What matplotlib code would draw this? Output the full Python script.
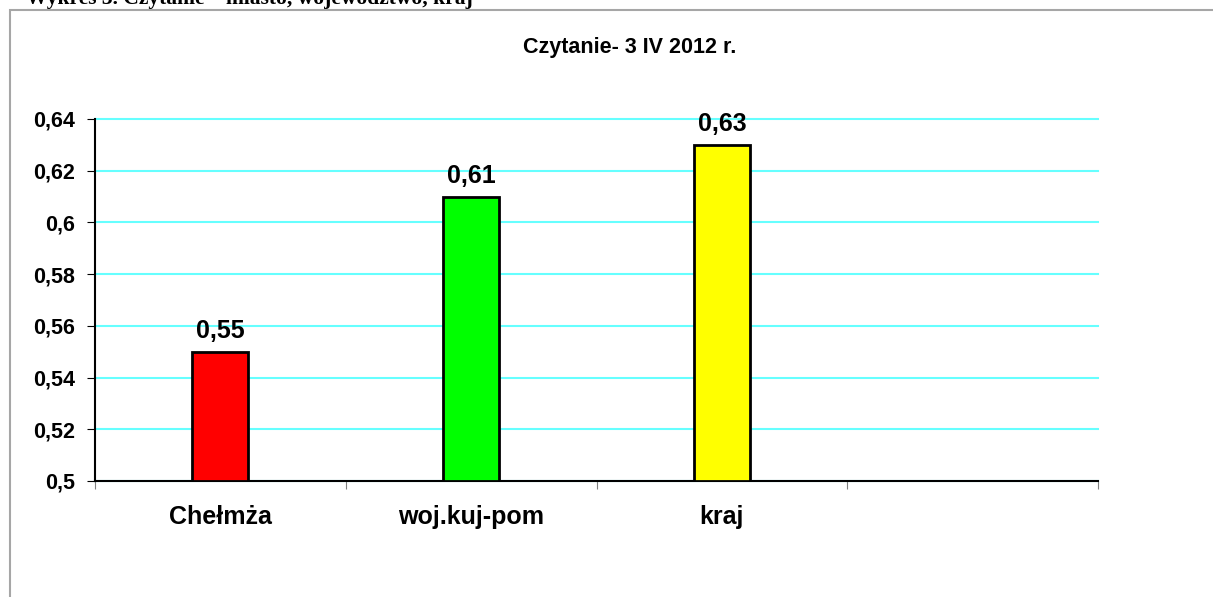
import matplotlib.pyplot as plt
from matplotlib.patches import Rectangle

categories = ['Chełmża', 'woj.kuj-pom', 'kraj']
values = [0.55, 0.61, 0.63]
bar_colors = ['#ff0000', '#00ff00', '#ffff00']
yticks = [0.5, 0.52, 0.54, 0.56, 0.58, 0.6, 0.62, 0.64]
n_slots = 4  # the chart keeps an empty fourth slot

plt.rcParams['font.family'] = ['Liberation Sans', 'DejaVu Sans']

W, H = 1213, 597
fig = plt.figure(figsize=(W / 100, H / 100), dpi=100)

# outer frame of the chart object
fig.patches.append(Rectangle((10 / W, -0.1), 1.2, (H - 10) / H + 0.1, transform=fig.transFigure,
                             fill=False, edgecolor='#a6a6a6', linewidth=1.5))
fig.text(26 / W, 1 - 4 / H, 'Wykres 3. Czytanie – miasto, województwo, kraj',
         family=['Liberation Serif', 'DejaVu Serif'], fontsize=15.5, fontweight='bold',
         va='baseline', ha='left')

ax = fig.add_axes([95 / W, (H - 481) / H, (1098 - 95) / W, (481 - 119) / H])
x = list(range(len(categories)))
ax.bar(x, [v - 0.5 for v in values], bottom=0.5, width=0.223, color=bar_colors,
       edgecolor='black', linewidth=2, zorder=3)
for xi, v in zip(x, values):
    ax.text(xi, v + 0.0035, f'{v:.2f}'.replace('.', ','), ha='center', va='bottom',
            fontsize=18, fontweight='bold', zorder=4)

ax.set_xlim(-0.5, n_slots - 0.5)
ax.set_ylim(0.5, 0.64)
ax.set_yticks(yticks)
ax.set_yticklabels([f'{t:g}'.replace('.', ',') for t in yticks], fontsize=15.5, fontweight='bold')
ax.yaxis.grid(True, color='#66ffff', linewidth=1.5, zorder=0)
for gl in ax.yaxis.get_gridlines():
    gl.set_clip_on(False)
ax.set_axisbelow(True)

ax.set_xticks([i - 0.5 for i in range(n_slots + 1)])
ax.set_xticklabels([])
ax.set_xticks(x, minor=True)
ax.set_xticklabels(categories, minor=True, fontsize=18, fontweight='bold')
ax.tick_params(axis='x', which='minor', length=0, pad=17)
ax.tick_params(axis='x', which='major', length=6, color='#808080')
ax.tick_params(axis='y', length=6, pad=8.5)

for side in ['top', 'right']:
    ax.spines[side].set_visible(False)
ax.spines['left'].set_linewidth(1.5)
ax.spines['bottom'].set_linewidth(1.5)

fig.text(630 / W, 1 - 47 / H, 'Czytanie- 3 IV 2012 r.', ha='center', va='center',
         fontsize=15.5, fontweight='bold')

fig.savefig('out.png', dpi=100)
